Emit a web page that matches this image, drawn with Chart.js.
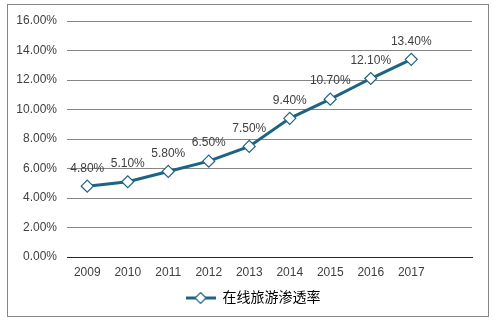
<!DOCTYPE html>
<html>
<head>
<meta charset="utf-8">
<script src="https://cdn.jsdelivr.net/npm/chart.js@4/dist/chart.umd.min.js"></script>
<style>
  html, body { margin: 0; padding: 0; background: #fff; }
  #wrap { position: relative; width: 500px; height: 323px; }
  #frame { position: absolute; left: 7px; top: 4px; width: 480px; height: 311px; border: 1px solid #868686; pointer-events: none; }
  canvas { position: absolute; left: 0; top: 0; }
</style>
</head>
<body>
<div id="wrap">
  <canvas id="chart" width="500" height="323"></canvas>
  <div id="frame"></div>
</div>
<script>
'use strict';

const years = ['2009', '2010', '2011', '2012', '2013', '2014', '2015', '2016', '2017', ''];
const penetration = [4.8, 5.1, 5.8, 6.5, 7.5, 9.4, 10.7, 12.1, 13.4];
const seriesName = '在线旅游渗透率';

const LINE = '#1d6482';
const TEXT = '#404040';
const FONT = '"Liberation Sans", Arial, "Noto Sans CJK SC", sans-serif';

Chart.defaults.font.family = FONT;
Chart.defaults.font.size = 12;
Chart.defaults.color = TEXT;

// legend marker: line with a hollow diamond
function legendMarker() {
  const c = document.createElement('canvas');
  c.width = 30; c.height = 14;
  const g = c.getContext('2d');
  g.strokeStyle = LINE;
  g.lineWidth = 3;
  g.beginPath(); g.moveTo(0, 7); g.lineTo(30, 7); g.stroke();
  g.lineWidth = 1.2;
  g.fillStyle = '#fff';
  g.beginPath();
  g.moveTo(15, 1.5); g.lineTo(20.5, 7); g.lineTo(15, 12.5); g.lineTo(9.5, 7); g.closePath();
  g.fill(); g.stroke();
  return c;
}

const valueLabels = {
  id: 'valueLabels',
  afterDatasetsDraw(chart) {
    const ctx = chart.ctx;
    const meta = chart.getDatasetMeta(0);
    ctx.save();
    ctx.font = '12px ' + FONT;
    ctx.fillStyle = TEXT;
    ctx.textAlign = 'center';
    ctx.textBaseline = 'bottom';
    meta.data.forEach((pt, i) => {
      ctx.fillText(penetration[i].toFixed(2) + '%', pt.x, pt.y - 12);
    });
    ctx.restore();
  }
};

// centre the legend on the whole frame rather than the padded area
const legendShift = {
  id: 'legendShift',
  afterLayout(chart) {
    const lg = chart.legend;
    if (lg) { lg.left += 17; lg.right += 17; }
  }
};

const marker = legendMarker();

new Chart(document.getElementById('chart'), {
  type: 'line',
  data: {
    labels: years,
    datasets: [{
      label: seriesName,
      data: penetration,
      borderColor: LINE,
      borderWidth: 3,
      backgroundColor: '#fff',
      pointStyle: 'rectRot',
      pointRadius: 6,
      pointBorderWidth: 1.2,
      pointBorderColor: LINE,
      pointBackgroundColor: '#fff',
      tension: 0
    }]
  },
  options: {
    responsive: false,
    animation: false,
    layout: { padding: { left: 0, right: 28, top: 21, bottom: 8 } },
    plugins: {
      legend: {
        position: 'bottom',
        labels: {
          usePointStyle: true,
          pointStyleWidth: 30,
          boxHeight: 14,
          padding: 6,
          color: TEXT,
          font: { size: 14 },
          generateLabels(chart) {
            return [{
              text: seriesName,
              pointStyle: marker,
              fillStyle: '#fff',
              strokeStyle: LINE,
              lineWidth: 0,
              datasetIndex: 0
            }];
          }
        }
      },
      tooltip: { enabled: false }
    },
    scales: {
      x: {
        offset: true,
        grid: { display: false, drawTicks: false },
        border: { color: '#262626', width: 1 },
        ticks: { padding: 8, color: TEXT, maxRotation: 0, autoSkip: false },
        afterFit(scale) { scale.height = 28; }
      },
      y: {
        min: 0,
        max: 16,
        ticks: {
          stepSize: 2,
          padding: 10,
          color: TEXT,
          callback: v => v.toFixed(2) + '%'
        },
        grid: { color: '#868686', drawTicks: false },
        border: { display: false },
        afterFit(scale) { scale.width = 67; }
      }
    }
  },
  plugins: [valueLabels, legendShift]
});
</script>
</body>
</html>
